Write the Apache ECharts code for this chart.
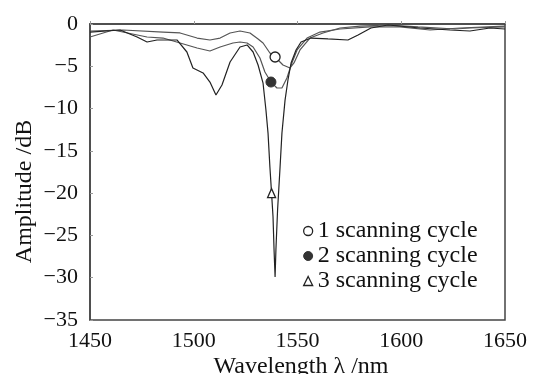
<!DOCTYPE html>
<html>
<head>
<meta charset="utf-8">
<script src="https://cdn.jsdelivr.net/npm/echarts@6/dist/echarts.min.js"></script>
<style>
html,body{margin:0;padding:0;background:#fff;}
#chart{width:538px;height:374px;}
</style>
</head>
<body>
<div id="chart"></div>
<script>
// ---- data (wavelength nm, amplitude dB) ----
var seriesNames = ['1 scanning cycle', '2 scanning cycle', '3 scanning cycle'];
var xTicks = [1450, 1500, 1550, 1600, 1650];
var yTicks = [0, -5, -10, -15, -20, -25, -30, -35];

var cycle1 = [
  [1450.0,-0.83],[1465.9,-0.71],[1485.2,-0.95],[1493.4,-1.06],[1501.6,-1.66],
  [1507.8,-1.89],[1512.7,-1.66],[1517.5,-1.06],[1522.3,-0.83],[1527.1,-1.06],
  [1531.0,-1.77],[1533.4,-2.25],[1536.7,-3.43],[1539.2,-3.90],[1543.0,-4.85],
  [1546.4,-5.20],[1548.3,-4.61],[1551.2,-3.07],[1556.0,-1.66],[1562.3,-1.06],
  [1570.5,-0.47],[1580.1,-0.24],[1593.6,-0.12],[1608.1,-0.35],[1625.9,-0.59],
  [1633.1,-0.47],[1650.0,-0.35]
];
var cycle2 = [
  [1450.0,-1.54],[1461.1,-0.71],[1477.5,-1.54],[1485.2,-1.66],[1493.4,-2.25],
  [1501.6,-2.84],[1507.8,-3.19],[1512.7,-2.72],[1518.9,-2.25],[1522.3,-2.13],
  [1525.7,-2.25],[1528.6,-2.72],[1531.9,-4.02],[1534.3,-5.68],[1537.2,-6.86],
  [1540.1,-7.57],[1542.5,-7.57],[1544.9,-6.39],[1547.3,-4.61],[1549.8,-3.07],
  [1554.6,-1.66],[1560.8,-0.95],[1570.5,-0.59],[1584.9,-0.35],[1599.4,-0.35],
  [1613.9,-0.71],[1628.3,-0.47],[1650.0,-0.24]
];
var cycle3 = [
  [1450.0,-0.95],[1464.5,-0.71],[1472.7,-1.54],[1477.5,-2.13],[1482.3,-1.89],
  [1491.9,-1.89],[1496.7,-3.31],[1499.6,-5.20],[1504.5,-5.79],[1507.8,-6.86],
  [1510.7,-8.40],[1513.6,-7.21],[1517.5,-4.49],[1522.3,-2.72],[1525.7,-2.48],
  [1528.6,-3.31],[1531.0,-4.85],[1533.4,-7.00],[1534.8,-10.2],[1535.8,-12.9],
  [1536.7,-16.9],[1537.5,-20.0],[1538.2,-22.8],[1538.7,-26.7],[1539.2,-29.9],
  [1539.6,-26.7],[1540.4,-22.0],[1541.6,-16.9],[1542.5,-12.9],[1544.0,-9.0],
  [1545.4,-6.62],[1546.9,-4.61],[1549.3,-3.07],[1551.7,-2.13],[1556.5,-1.66],
  [1564.7,-1.77],[1574.3,-1.89],[1579.2,-1.30],[1585.4,-0.47],[1593.6,-0.12],
  [1609.0,-0.47],[1623.5,-0.71],[1633.1,-0.83],[1642.8,-0.47],[1650.0,-0.59]
];
// index of the point in each curve that carries the series marker
var markerIndex = [13, 14, 21];

var FONT = 'Liberation Serif';
var markerStyles = [
  {symbol: 'circle', symbolSize: 10, itemStyle: {color: '#fff', borderColor: '#222', borderWidth: 1.3}},
  {symbol: 'circle', symbolSize: 10, itemStyle: {color: '#333', borderColor: '#333', borderWidth: 1}},
  {symbol: 'triangle', symbolSize: [8, 9], itemStyle: {color: '#fff', borderColor: '#222', borderWidth: 1.3}}
];
var legendStyles = [
  {icon: 'circle', itemStyle: {color: '#fff', borderColor: '#222', borderWidth: 1.3}},
  {icon: 'circle', itemStyle: {color: '#333', borderColor: '#333', borderWidth: 1}},
  {icon: 'triangle', itemStyle: {color: '#fff', borderColor: '#222', borderWidth: 1.3}}
];
var lineColors = ['#555', '#555', '#222'];

function buildData(arr, mi, ms) {
  return arr.map(function (p, i) {
    if (i === mi) {
      return {value: p, symbol: ms.symbol, symbolSize: ms.symbolSize, itemStyle: ms.itemStyle};
    }
    return {value: p};
  });
}

var curves = [cycle1, cycle2, cycle3];
var series = curves.map(function (c, k) {
  return {
    name: seriesNames[k],
    type: 'line',
    data: buildData(c, markerIndex[k], markerStyles[k]),
    symbol: 'none',
    showSymbol: true,
    z: k === 2 ? 3 : 2,
    lineStyle: {color: lineColors[k], width: 1.2},
    itemStyle: {color: lineColors[k]},
    emphasis: {disabled: true},
    animation: false
  };
});

function fmtNeg(v) { return v < 0 ? '\u2212' + (-v) : String(v); }

var chart = echarts.init(document.getElementById('chart'), null, {renderer: 'canvas'});
chart.setOption({
  backgroundColor: '#fff',
  animation: false,
  grid: {left: 90, top: 24, right: 33, bottom: 54, containLabel: false, outerBoundsMode: 'none',
         show: true, borderColor: '#444', borderWidth: 1.5, backgroundColor: 'transparent'},
  legend: {
    orient: 'vertical', left: 298, top: 214,
    itemWidth: 9, itemHeight: 9, itemGap: 1,
    selectedMode: false,
    textStyle: {fontFamily: FONT, fontSize: 24, lineHeight: 24, color: '#111'},
    data: seriesNames.map(function (n, k) {
      return {name: n, icon: legendStyles[k].icon, itemStyle: legendStyles[k].itemStyle};
    })
  },
  xAxis: {
    type: 'value', min: xTicks[0], max: xTicks[xTicks.length - 1], interval: 50,
    name: 'Wavelength \u03bb /nm', nameLocation: 'middle', nameGap: 35,
    nameMoveOverlap: false,
    nameTextStyle: {fontFamily: FONT, fontSize: 24, color: '#111', padding: [0, 0, 0, 7]},
    axisLine: {show: true, lineStyle: {color: '#444', width: 1.5}},
    axisTick: {show: true, inside: true, length: 3, lineStyle: {color: '#999'}},
    axisLabel: {fontFamily: FONT, fontSize: 22, color: '#111', margin: 10, formatter: function (v) { return String(v); }},
    splitLine: {show: false}
  },
  yAxis: {
    type: 'value', min: yTicks[yTicks.length - 1], max: yTicks[0], interval: 5,
    name: 'Amplitude /dB', nameLocation: 'middle', nameGap: 53,
    nameMoveOverlap: false,
    nameTextStyle: {fontFamily: FONT, fontSize: 24, color: '#111', padding: [0, 39, 0, 0]},
    axisLine: {show: true, lineStyle: {color: '#444', width: 1.5}},
    axisTick: {show: true, inside: true, length: 3, lineStyle: {color: '#999'}},
    axisLabel: {fontFamily: FONT, fontSize: 22, color: '#111', margin: 12, formatter: fmtNeg},
    splitLine: {show: false}
  },
  series: series
});
</script>
</body>
</html>
